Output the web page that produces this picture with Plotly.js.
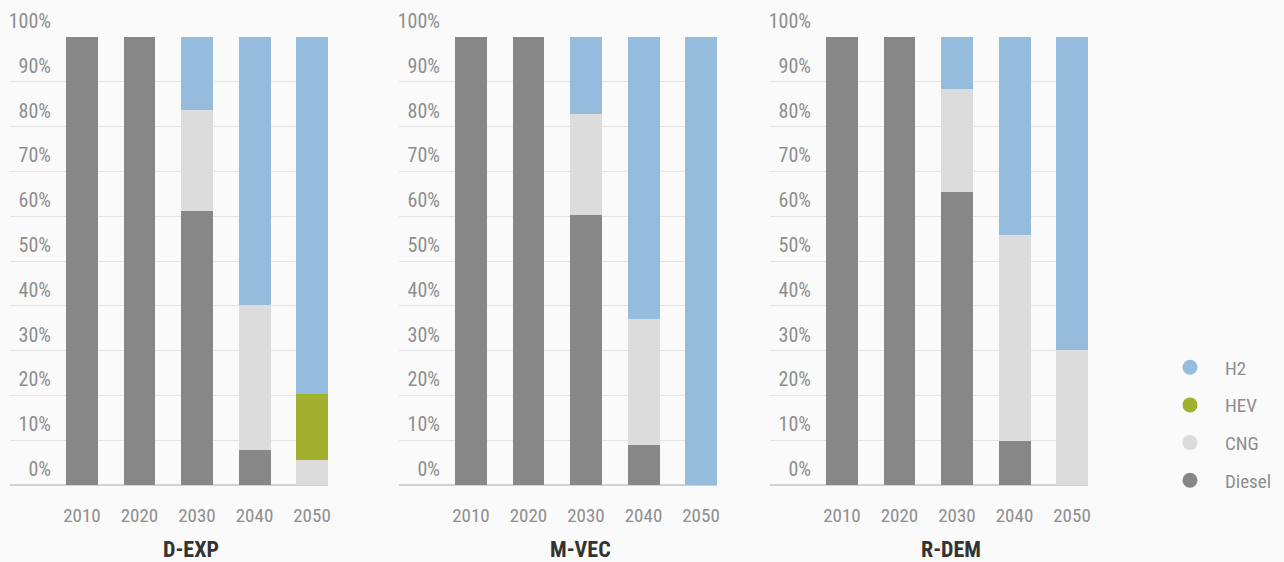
<!DOCTYPE html>
<html>
<head>
<meta charset="utf-8">
<script src="https://cdn.plot.ly/plotly-3.0.1.min.js"></script>
<style>html,body{margin:0;padding:0;background:#fafafa;}#chart{width:1284px;height:562px;}</style>
</head>
<body>
<div id="chart"></div>
<script>
// ---- data (shares in %) ----
const years = ['2010', '2020', '2030', '2040', '2050'];
const scenarios = ['D-EXP', 'M-VEC', 'R-DEM'];
const fuels = ['Diesel', 'CNG', 'HEV', 'H2'];
const fuelColors = ['#878787', '#dcdcdc', '#a1b12e', '#96bcdd'];

// D-EXP
const dexpDiesel = [100, 100, 61.2, 7.9, 0];
const dexpCNG    = [0, 0, 22.4, 32.2, 5.6];
const dexpHEV    = [0, 0, 0, 0, 14.8];
const dexpH2     = [0, 0, 16.4, 59.9, 79.6];
// M-VEC
const mvecDiesel = [100, 100, 60.3, 9.0, 0];
const mvecCNG    = [0, 0, 22.6, 28.1, 0];
const mvecHEV    = [0, 0, 0, 0, 0];
const mvecH2     = [0, 0, 17.1, 62.9, 100];
// R-DEM
const rdemDiesel = [100, 100, 65.3, 9.9, 0];
const rdemCNG    = [0, 0, 23.1, 45.9, 30.1];
const rdemHEV    = [0, 0, 0, 0, 0];
const rdemH2     = [0, 0, 11.6, 44.2, 69.9];

const yTicks = [0, 10, 20, 30, 40, 50, 60, 70, 80, 90, 100];

const panelData = [
  [dexpDiesel, dexpCNG, dexpHEV, dexpH2],
  [mvecDiesel, mvecCNG, mvecHEV, mvecH2],
  [rdemDiesel, rdemCNG, rdemHEV, rdemH2]
];

const FONT = '"Roboto Condensed", "Liberation Sans Narrow", "DejaVu Sans Condensed", Roboto, sans-serif';
const TXT = '#8e8e8e';
const W = 1284;
const domains = [[10 / W, 328 / W], [399 / W, 717 / W], [770 / W, 1088 / W]];

const traces = [];
panelData.forEach((series, p) => {
  const xa = p === 0 ? 'x' : 'x' + (p + 1);
  const ya = p === 0 ? 'y' : 'y' + (p + 1);
  series.forEach((vals, i) => {
    traces.push({
      type: 'bar', x: years, y: vals, name: fuels[i],
      xaxis: xa, yaxis: ya, width: 0.556,
      marker: {color: fuelColors[i], line: {width: 0}},
      showlegend: false, hoverinfo: 'x+y+name'
    });
  });
});
// legend entries (circles), top to bottom: H2, HEV, CNG, Diesel
[3, 2, 1, 0].forEach(i => {
  traces.push({
    type: 'scatter', mode: 'markers', x: [null], y: [null], name: fuels[i],
    legendgroup: fuels[i], xaxis: 'x', yaxis: 'y',
    marker: {color: fuelColors[i], size: 15, symbol: 'circle'}, showlegend: true
  });
});

const layout = {
  width: 1284, height: 562,
  margin: {l: 0, r: 0, t: 37, b: 77},
  paper_bgcolor: '#fafafa', plot_bgcolor: '#fafafa',
  font: {family: FONT, size: 18, color: TXT},
  barmode: 'stack',
  showlegend: true,
  legend: {
    x: 1155 / W, xanchor: 'left', y: 0.305, yanchor: 'top',
    bgcolor: 'rgba(0,0,0,0)', itemwidth: 60, traceorder: 'grouped',
    tracegroupgap: 10, font: {family: FONT, size: 19, color: TXT},
    itemclick: false, itemdoubleclick: false
  },
  annotations: [],
  hovermode: 'closest'
};

for (let p = 0; p < 3; p++) {
  const sx = p === 0 ? '' : String(p + 1);
  layout['xaxis' + sx] = {
    domain: domains[p], anchor: 'y' + sx, type: 'category',
    categoryorder: 'array', categoryarray: years,
    range: [-1.252, 4.278], showgrid: false, zeroline: false, showline: false,
    ticks: '', ticklabelstandoff: 17,
    tickfont: {family: FONT, size: 19, color: TXT}, fixedrange: true
  };
  layout['yaxis' + sx] = {
    domain: [0, 1], anchor: 'x' + sx, range: [0, 100],
    tickvals: yTicks, ticktext: yTicks.map(v => v + '%'),
    showgrid: true, gridcolor: '#e4e4e4', gridwidth: 1.3,
    zeroline: true, zerolinecolor: '#d2d2d2', zerolinewidth: 1.5,
    showline: false, ticks: '',
    ticklabelposition: 'outside', ticklabelstandoff: -42, ticklabelshift: -16,
    tickfont: {family: FONT, size: 20, color: TXT}, fixedrange: true
  };
  layout.annotations.push({
    text: '<b>' + scenarios[p] + '</b>', xref: 'x' + sx, yref: 'paper',
    x: 1.9, y: -0.145, xanchor: 'center', yanchor: 'middle', showarrow: false,
    font: {family: FONT, size: 22, color: '#333333'}
  });
}

Plotly.newPlot('chart', traces, layout, {displayModeBar: false, staticPlot: false});
</script>
</body>
</html>
